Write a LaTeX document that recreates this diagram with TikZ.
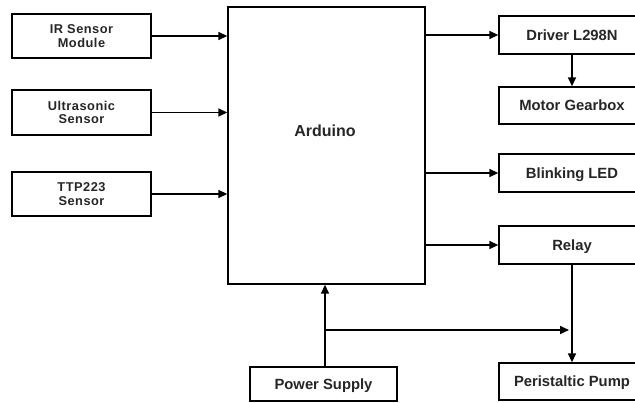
\documentclass[tikz,border=0pt]{standalone}
\usepackage{fontspec}
\setmainfont{Liberation Sans}
\newfontfamily\lboxfont[LetterSpace=4]{Liberation Sans}
\usetikzlibrary{arrows.meta}
\definecolor{txt}{HTML}{262626}
\begin{document}
\begin{tikzpicture}[x=1pt,y=-1pt,
  box/.style={draw, line width=1.4pt, inner sep=0pt, align=center, text=txt,
    font=\lboxfont\fontsize{12.8}{13.2}\selectfont\bfseries},
  rbox/.style={box, minimum width=146pt, minimum height=37pt,
    text height=10.6pt, text depth=0pt,
    font=\fontsize{14.8}{12}\selectfont\bfseries},
  lbox/.style={box, minimum width=139pt, minimum height=44pt},
  conn/.style={line width=1.6pt},
  arr/.style={conn, -{Triangle[length=9pt,width=8pt]}}]
\useasboundingbox (0,0) rectangle (635,403);
\clip (0,0) rectangle (635,403);
\fill[white] (0,0) rectangle (635,403);
% left boxes
\node[lbox] (ir) at (81.5,36) {IR Sensor\\Module};
\node[lbox, minimum height=45pt] (us) at (81.5,112.5) {Ultrasonic\\Sensor};
\node[lbox] (ttp) at (81.5,194) {TTP223\\Sensor};
% arduino
\node[box, minimum width=197pt, minimum height=277pt] (ard) at (326.5,145.5) {};
\node[text=txt, font=\fontsize{16}{16}\selectfont\bfseries] (ardl) at (325,131) {Arduino};
% right boxes
\node[rbox, minimum height=38pt] (drv) at (572,35) {Driver L298N};
\node[rbox] (mot) at (572,105.5) {Motor Gearbox};
\node[rbox, minimum height=38pt] (led) at (572,173) {Blinking LED};
\node[rbox, minimum height=38pt] (rel) at (572,245) {Relay};
\node[rbox] (pump) at (572,381.5) {Peristaltic Pump};
% power
\node[rbox, minimum width=147pt, minimum height=34pt] (pwr) at (323.5,384) {Power Supply};
% arrows in
\draw[arr] (ir.east) -- (ard.west |- ir.east);
\draw[arr] (us.east) -- (ard.west |- us.east);
\draw[arr] (ttp.east) -- (ard.west |- ttp.east);
% arrows out
\draw[arr] (ard.east |- drv.west) -- (drv.west);
\draw[arr] (ard.east |- led.west) -- (led.west);
\draw[arr] (ard.east |- rel.west) -- (rel.west);
\draw[arr] (drv.south) -- (mot.north);
\draw[arr] (rel.south) -- (pump.north);
% power
\draw[arr] (pwr.north -| 325,0) -- (ard.south -| 325,0);
\coordinate (j) at (325,330);
\coordinate (k) at (569,330);
\draw[arr] (j) -- (k);
\end{tikzpicture}
\end{document}
